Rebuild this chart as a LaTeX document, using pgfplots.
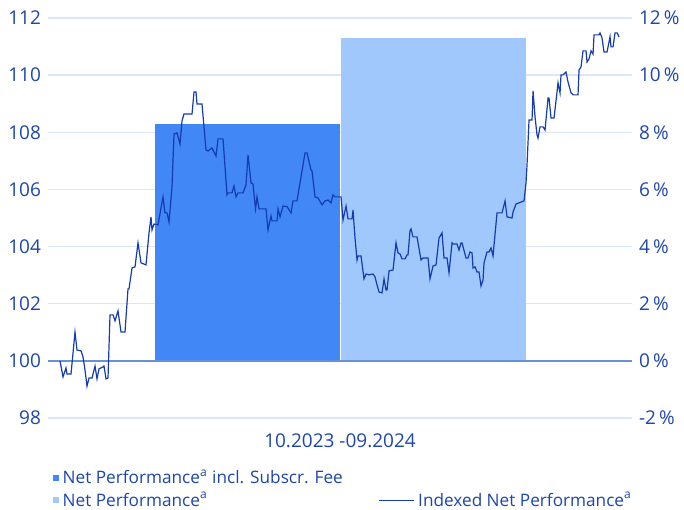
\documentclass[border=0pt]{standalone}
\usepackage{pgfplots}
\pgfplotsset{compat=1.18}
\usepackage{fontspec}
\setmainfont{Open Sans}

\definecolor{darkbar}{RGB}{65,135,245}
\definecolor{lightbar}{RGB}{160,200,252}
\definecolor{idxline}{RGB}{20,60,175}
\definecolor{labelblue}{RGB}{30,70,170}
\definecolor{gridblue}{RGB}{218,231,248}
\definecolor{baseblue}{RGB}{105,145,215}

\pgfplotsset{
  chartbase/.style={
    scale only axis, width=292pt, height=200pt,
    xmin=48, xmax=632, ymin=98, ymax=112,
    axis line style={draw=none},
    xtick=\empty,
    major tick length=0pt,
    ticklabel style={font=\fontsize{9.5}{11}\selectfont, text=labelblue},
    /pgf/number format/assume math mode=true,
  }
}

\begin{document}
\begin{tikzpicture}
\begin{axis}[
  chartbase,
  ytick={98,100,...,112},
  ymajorgrids,
  grid style={gridblue, line width=0.7pt},
  clip=false,
  legend columns=2,
  legend cell align=left,
  legend style={at={(rel axis cs:0.008,-0.118)}, anchor=north west,
    draw=none, fill=none, inner sep=0pt,
    font=\fontsize{8.6}{10}\selectfont, text=labelblue,
    row sep=-1.5pt,
    /tikz/every even column/.append style={column sep=16pt}},
]
% bars: net performance incl. fee / net performance
\addplot[fill=darkbar, draw=none, forget plot] coordinates {(155,100) (155,108.29) (340,108.29) (340,100)} -- cycle;
\addplot[fill=lightbar, draw=none, forget plot] coordinates {(341,100) (341,111.30) (526,111.30) (526,100)} -- cycle;
% baseline
\addplot[baseblue, line width=1pt, forget plot] coordinates {(48,100) (632,100)};
% indexed net performance
\addplot[idxline, line width=0.6pt, forget plot] coordinates {
(60,100.00) (63,99.44) (66,99.75) (67,99.54) (71,99.54) (75,101.01) (77,100.38)
(81,100.35) (83,100.14) (85,99.68) (87,99.12) (89,99.40) (92,99.40) (95,99.82)
(97,99.37) (99,99.72) (103,99.79) (104,99.82) (106,99.37) (108,99.40) (110,101.61)
(113,101.61) (115,101.40) (118,101.75) (121,101.01) (125,101.01) (128,102.52)
(129,102.52) (132,103.25) (135,103.29) (138,104.13) (141,103.43) (146,103.36)
(149,104.48) (151,105.04) (152,104.58) (154,104.79) (158,104.76) (163,105.74)
(165,105.18) (167,105.18) (169,104.86) (172,106.09) (174,107.94) (177,107.98)
(180,107.59) (182,108.40) (184,108.64) (192,108.64) (194,109.41) (196,109.41)
(197,108.99) (202,108.99) (206,107.38) (208,107.35) (212,107.45) (216,107.17)
(218,107.77) (223,107.77) (225,106.79) (227,105.81) (228,105.88) (232,105.88)
(234,106.12) (236,105.74) (238,105.88) (243,105.88) (246,106.16) (248,107.21)
(251,106.23) (253,106.19) (255.5,105.32) (257,105.74) (259,105.32) (266,105.32)
(268,104.58) (271,105.07) (272,104.90) (277,104.90) (278,105.32) (280,105.04)
(283,105.42) (287,105.40) (291,105.18) (293,105.60) (297,105.60) (305,107.28)
(307,107.28) (311,106.68) (312,106.65) (315,105.74) (318,105.70) (322,105.46)
(325,105.60) (328,105.63) (331,105.53) (333,105.81) (335,105.74) (341,105.74)
(343,104.93) (346,105.42) (348,104.97) (352,104.97) (353,105.28) (355,104.30)
(357,103.53) (358,103.67) (361,103.67) (364,102.87) (366,103.04) (369,103.01)
(373,103.04) (375,102.94) (377,102.66) (379,102.41) (382,102.38) (384,102.87)
(386,102.48) (387,102.48) (389,103.15) (393,103.18) (396,104.13) (398,103.78)
(400,103.74) (402,103.57) (405,103.57) (407,103.71) (408,103.71) (410,104.55)
(411,104.62) (413,104.34) (417,104.34) (421,103.53) (423,103.60) (428,103.60)
(430,102.87) (433,103.32) (436,103.36) (439,104.30) (442,104.48) (444,103.60)
(447,103.60) (449,103.08) (452,104.13) (453,104.09) (457,104.09) (459,103.88)
(461,104.13) (462,104.13) (466,103.60) (468,103.60) (470,103.81) (472,103.78)
(473,103.25) (475,103.29) (477,103.11) (479,103.11) (481,102.62) (483,102.83)
(484,103.43) (487,103.81) (489,103.81) (491,103.95) (493,103.67) (497,105.18)
(502,105.18) (505,105.60) (507,105.04) (512,105.00) (513,105.21) (516,105.49)
(519,105.53) (524,105.60) (526,106.23) (527,106.86) (529,108.43) (532,108.43)
(533,109.45) (535,108.54) (537,107.91) (538,107.80) (540,108.19) (543,108.19)
(545,108.08) (548,109.20) (549,109.20) (551,108.50) (554,108.50) (557,109.41)
(558,109.73) (560,109.38) (561,110.01) (563,110.01) (566,110.11) (568,109.76)
(571,109.38) (573,109.31) (578,109.31) (579,110.18) (581,110.29) (583,110.85)
(586,110.85) (587,110.46) (589,110.57) (591,110.85) (593,110.74) (594,111.41)
(599,111.41) (600,111.48) (602,111.30) (604,110.81) (607,110.81) (610,111.34)
(611,110.99) (613,110.99) (615,111.48) (617,111.48) (619,111.34)
};
\addlegendimage{legend image code/.code={\fill[darkbar] (0pt,-1.1pt) rectangle (2.4pt,1.3pt);}}
\addlegendentry{Net Performance\textsuperscript{a} incl. Subscr. Fee}
\addlegendimage{empty legend}
\addlegendentry{}
\addlegendimage{legend image code/.code={\fill[lightbar] (0pt,-1.1pt) rectangle (2.4pt,1.3pt);}}
\addlegendentry{Net Performance\textsuperscript{a}}
\addlegendimage{idxline, line width=0.6pt}
\addlegendentry{Indexed Net Performance\textsuperscript{a}}
\node[font=\fontsize{9.5}{11}\selectfont, text=labelblue] at (rel axis cs:0.5,-0.0575) {10.2023 -09.2024};
\coordinate (bl) at (rel axis cs:-0.0822,-0.2275);
\coordinate (tr) at (rel axis cs:1.089,1.045);
\end{axis}
\begin{axis}[
  chartbase,
  ymin=-2, ymax=12,
  axis y line*=right,
  ytick={-2,0,...,12},
  yticklabel={\pgfmathprintnumber{\tick}\,\%},
]
\end{axis}
\pgfresetboundingbox
\path (bl) rectangle (tr);
\end{tikzpicture}
\end{document}
